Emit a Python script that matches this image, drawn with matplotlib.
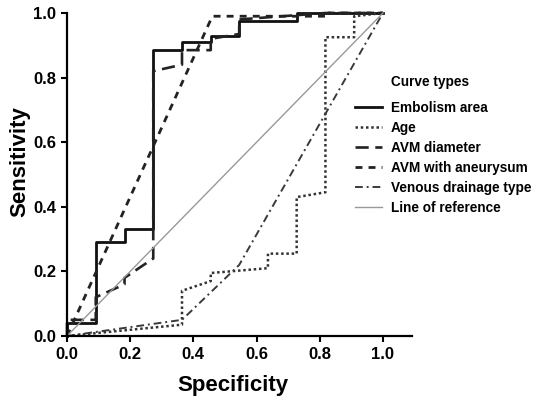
import matplotlib
matplotlib.use("Agg")
import matplotlib.pyplot as plt

plt.rcParams['font.family'] = ['Liberation Sans', 'DejaVu Sans']

# ROC curves (x = specificity axis, y = sensitivity)
emb_x = [0, 0, 0.091, 0.091, 0.182, 0.182, 0.273, 0.273, 0.364, 0.364, 0.455, 0.455,
         0.545, 0.545, 0.727, 0.727, 1.0]
emb_y = [0, 0.04, 0.04, 0.29, 0.29, 0.33, 0.33, 0.885, 0.885, 0.91, 0.91, 0.93,
         0.93, 0.975, 0.975, 1.0, 1.0]

age_x = [0, 0.364, 0.364, 0.455, 0.455, 0.636, 0.636, 0.727, 0.727, 0.818, 0.818,
         0.909, 0.909, 1.0]
age_y = [0, 0.035, 0.14, 0.17, 0.195, 0.21, 0.255, 0.255, 0.43, 0.445, 0.925,
         0.925, 0.99, 1.0]

dia_x = [0, 0, 0.091, 0.091, 0.182, 0.182, 0.273, 0.273, 0.364, 0.364, 0.455, 0.455,
         0.545, 0.545, 0.818, 1.0]
dia_y = [0, 0.05, 0.05, 0.12, 0.16, 0.18, 0.24, 0.82, 0.84, 0.885, 0.885, 0.92,
         0.935, 0.98, 1.0, 1.0]

aneu_x = [0, 0.46, 0.818, 0.818, 1.0]
aneu_y = [0, 0.99, 0.99, 1.0, 1.0]

ven_x = [0, 0.364, 0.545, 1.0]
ven_y = [0, 0.05, 0.22, 1.0]

ref_x = [0, 1]
ref_y = [0, 1]

labels = ["Embolism area", "Age", "AVM diameter", "AVM with aneurysum",
          "Venous drainage type", "Line of reference"]
ticks = [0.0, 0.2, 0.4, 0.6, 0.8, 1.0]

fig = plt.figure(figsize=(5.34, 4.0), dpi=100)
ax = fig.add_axes([67 / 534, 64 / 400, 345 / 534, 323 / 400])

ax.plot(emb_x, emb_y, color="#111111", lw=2.0, ls="-", clip_on=False, label=labels[0])
ax.plot(age_x, age_y, color="#333333", lw=1.8, ls=(0, (1, 1.1)), clip_on=False, label=labels[1])
ax.plot(dia_x, dia_y, color="#222222", lw=1.9, ls=(0, (5, 2.5)), clip_on=False, label=labels[2])
ax.plot(aneu_x, aneu_y, color="#222222", lw=2.0, ls=(0, (2.5, 2.2)), clip_on=False, label=labels[3])
ax.plot(ven_x, ven_y, color="#3a3a3a", lw=1.4, ls=(0, (4, 2, 1, 2)), clip_on=False, label=labels[4])
ax.plot(ref_x, ref_y, color="#999999", lw=1.0, ls="-", clip_on=False, label=labels[5])

ax.set_xlim(0, 1.092)
ax.set_ylim(0, 1.0)
ax.set_xticks(ticks)
ax.set_yticks(ticks)
ax.set_xticklabels([f"{t:.1f}" for t in ticks], fontsize=12, fontweight="bold")
ax.set_yticklabels([f"{t:.1f}" for t in ticks], fontsize=12, fontweight="bold")
ax.tick_params(direction="out", length=4, width=1.5, pad=4)

for side in ["top", "right"]:
    ax.spines[side].set_visible(False)
for side in ["left", "bottom"]:
    ax.spines[side].set_linewidth(1.6)

ax.set_xlabel("Specificity", fontsize=16, fontweight="bold")
ax.set_ylabel("Sensitivity", fontsize=16, fontweight="bold")
ax.xaxis.set_label_coords(0.48, -0.12)
ax.yaxis.label.set_va("center")
ax.yaxis.set_label_coords(-47 / 345, 0.54)

fig.text(391 / 534, 1 - 82 / 400, "Curve types", fontsize=9.8, fontweight="bold",
         ha="left", va="center")
fig.legend(loc="upper left", bbox_to_anchor=(355 / 534, 1 - 101 / 400), frameon=False,
           prop={"size": 9.8, "weight": "bold"}, handlelength=1.95, handletextpad=0.7,
           labelspacing=0.44, borderpad=0, borderaxespad=0)

fig.savefig("out.png", dpi=100)
